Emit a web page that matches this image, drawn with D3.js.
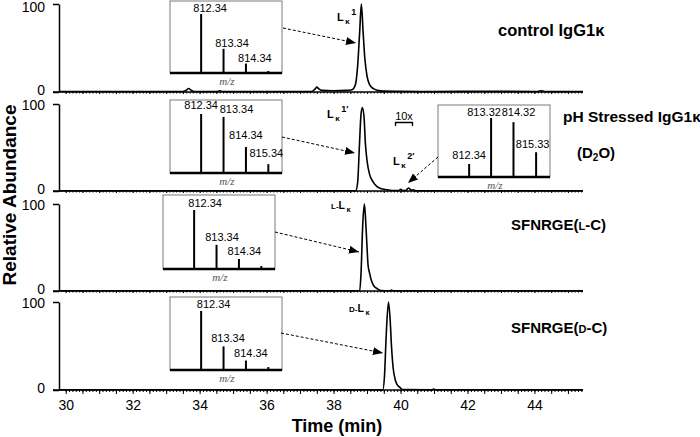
<!DOCTYPE html>
<html lang="en">
<head>
    <meta charset="UTF-8">
    <title>Chromatograms</title>
    <style>
        body { margin: 0; background: #fff; }
        svg { display: block; font-family: "Liberation Sans", Arial, sans-serif; }
    </style>
</head>
<body>
    <div id="chart"></div>
    <script src="https://d3js.org/d3.v7.min.js"></script>
    <script>
        // chromatogram traces, [time (min), relative abundance]
        const controlTrace = [[29.8,0.5],[33.5,0.5],[33.6,2],[33.67,4],[33.75,2],[33.82,0.5],[34.5,0.5],[34.6,1.5],[34.7,0.5],
            [37.35,0.6],[37.45,3.5],[37.5,5.5],[37.56,3.5],[37.65,1.8],[38.0,1.5],[38.4,1.8],[38.55,2.5],[38.65,8],[38.72,30],
            [38.78,68],[38.83,100],[38.88,70],[38.93,40],[39.0,18],[39.08,8],[39.18,4],[39.3,2],[39.5,1],[40,0.8],[41,0.6],
            [42.5,0.8],[44.1,0.6],[44.2,1.5],[44.3,0.6],[45.45,0.5]]
        const stressedTrace = [[29.8,0.3],[38.66,0.3],[38.72,10],[38.77,50],[38.82,88],[38.86,96],[38.91,85],[38.95,55],[39.0,35],
            [39.07,20],[39.19,10],[39.3,5],[39.4,3],[39.6,1.5],[39.8,0.5],[39.95,0.5],[40.0,2],[40.06,0.5],[40.15,0.6],[40.24,3.5],
            [40.32,1],[40.38,1.5],[40.45,0.3],[45.45,0.3]]
        const lcTrace = [[29.8,0.3],[38.78,0.3],[38.82,20],[38.87,75],[38.92,100],[38.96,80],[39.0,50],[39.03,30],[39.08,20],
            [39.13,12],[39.2,6],[39.31,2.5],[39.42,0.5],[39.68,0.3],[39.73,1.2],[39.78,0.3],[45.45,0.3]]
        const dcTrace = [[29.8,0.3],[39.47,0.3],[39.52,15],[39.57,60],[39.64,100],[39.69,80],[39.73,50],[39.78,25],[39.84,12],
            [39.9,6],[39.98,3],[40.06,0.5],[40.93,0.3],[40.99,1.2],[41.05,0.3],[45.45,0.3]]

        // inset mass spectra
        const mzControl = [812.34, 813.34, 814.34, 815.34]
        const intControl = [100, 41, 16, 3.5]
        const mzStressed1 = [812.34, 813.34, 814.34, 815.34]
        const intStressed1 = [100, 95, 44, 15]
        const mzStressed2 = [812.34, 813.32, 814.32, 815.33]
        const intStressed2 = [22, 100, 93, 42]
        const mzLC = [812.34, 813.34, 814.34, 815.34]
        const intLC = [100, 41, 17, 5]
        const mzDC = [812.34, 813.34, 814.34, 815.34]
        const intDC = [100, 40, 16, 5]

        const xTickLabels = [30, 32, 34, 36, 38, 40, 42, 44]
        const yTickLabels = [0, 100]

        const width = 700
        const height = 437
        const svg = d3.select('#chart').append('svg')
            .attr('width', width)
            .attr('height', height)

        svg.append('defs').append('marker')
            .attr('id', 'head')
            .attr('markerUnits', 'userSpaceOnUse')
            .attr('markerWidth', 10).attr('markerHeight', 8)
            .attr('refX', 10).attr('refY', 4)
            .attr('orient', 'auto')
            .append('path').attr('d', 'M0,0 L10,4 L0,8 z').attr('fill', '#000')

        const x = d3.scaleLinear().domain([29.8, 45.45]).range([59, 583])

        const panels = [
            { trace: controlTrace, top: 4, bottom: 92 },
            { trace: stressedTrace, top: 104, bottom: 191 },
            { trace: lcTrace, top: 204, bottom: 291 },
            { trace: dcTrace, top: 302, bottom: 390 }
        ]

        panels.forEach(function (p, i) {
            const y = d3.scaleLinear().domain([0, 100]).range([p.bottom, p.top])
            const g = svg.append('g')

            // y axis
            const ya = g.append('g')
                .attr('transform', 'translate(59,0)')
                .call(d3.axisLeft(y).tickValues(yTickLabels).tickSize(6).tickSizeOuter(0).tickPadding(8))
            ya.select('.domain').attr('stroke-width', 1.5)
            ya.selectAll('.tick line').attr('stroke-width', 1.5)
            ya.selectAll('text')
                .style('font-size', '14px')
                .attr('dy', d => d === 0 ? '0.15em' : (i === 0 ? '0.5em' : '0.4em'))

            // x ticks
            const last = i === panels.length - 1
            const minor = g.append('g')
                .attr('transform', `translate(0,${p.bottom})`)
                .call(d3.axisBottom(x).tickValues(d3.range(30, 45.45, 0.1)).tickSize(last ? 2 : 1.5).tickFormat(''))
            minor.select('.domain').remove()
            const major = g.append('g')
                .attr('transform', `translate(0,${p.bottom})`)
                .call(d3.axisBottom(x).tickValues(d3.range(30, 45.45, 0.5)).tickSize(last ? 4 : 2).tickPadding(6)
                    .tickFormat(d => (last && xTickLabels.includes(d)) ? d : ''))
            major.select('.domain').remove()
            major.selectAll('text').style('font-size', '14px')
            if (!last) major.selectAll('text').remove()

            g.append('line')
                .attr('x1', 53).attr('x2', x.range()[1])
                .attr('y1', p.bottom).attr('y2', p.bottom)
                .attr('stroke', '#000').attr('stroke-width', 1.5)

            const line = d3.line()
                .x(d => x(d[0]))
                .y(d => y(d[1]))
                .curve(d3.curveMonotoneX)
            g.append('path')
                .attr('d', line(p.trace))
                .attr('fill', 'none')
                .attr('stroke', '#000')
                .attr('stroke-width', 1.6)
                .attr('stroke-linejoin', 'round')
        })

        // insets
        const insets = [
            { mz: mzControl, val: intControl, left: 170, top: 1, bottom: 73, labels: 3,
              lab: [[9, -2], [8.5, -2], [9, -2]] },
            { mz: mzStressed1, val: intStressed1, left: 170, top: 100, bottom: 173, labels: 4,
              lab: [[0, -5], [13, -4], [0, -8], [-2, -7]] },
            { mz: mzStressed2, val: intStressed2, left: 438, top: 105, bottom: 177, labels: 4,
              lab: [[0, -5], [-7, -2], [5, -6], [-3.5, -4]] },
            { mz: mzLC, val: intLC, left: 163, top: 195, bottom: 269, labels: 3,
              lab: [[11, -3], [5.5, -4], [5.5, -4]] },
            { mz: mzDC, val: intDC, left: 170, top: 297, bottom: 370, labels: 3,
              lab: [[12.5, -3], [4.5, -4], [5, -4]] }
        ]

        insets.forEach(function (ins) {
            const g = svg.append('g')
            const bx = d3.scaleLinear().domain([810.95, 815.95]).range([ins.left, ins.left + 112])
            const by = d3.scaleLinear().domain([0, 100]).range([ins.bottom, ins.bottom - 59])

            g.append('rect')
                .attr('x', ins.left).attr('y', ins.top)
                .attr('width', 112).attr('height', ins.bottom - ins.top)
                .attr('fill', '#fff').attr('stroke', '#7a7a7a').attr('stroke-width', 1)

            g.selectAll('.bar')
                .data(ins.mz)
                .enter()
                .append('line')
                .attr('x1', d => bx(d)).attr('x2', d => bx(d))
                .attr('y1', ins.bottom).attr('y2', (d, i) => by(ins.val[i]))
                .attr('stroke', '#000').attr('stroke-width', 2)

            g.append('line')
                .attr('x1', ins.left).attr('x2', ins.left + 112)
                .attr('y1', ins.bottom).attr('y2', ins.bottom)
                .attr('stroke', '#000').attr('stroke-width', 2.5)

            g.selectAll('.lbl')
                .data(ins.mz.slice(0, ins.labels))
                .enter()
                .append('text')
                .attr('x', (d, i) => bx(d) + ins.lab[i][0])
                .attr('y', (d, i) => by(ins.val[i]) + ins.lab[i][1])
                .attr('text-anchor', 'middle')
                .style('font-size', '11px')
                .text(d => d.toFixed(2))

            g.append('text')
                .attr('x', ins.left + 57).attr('y', ins.bottom + 12)
                .attr('text-anchor', 'middle')
                .style('font-family', '"Liberation Serif", "Times New Roman", serif')
                .style('font-style', 'italic')
                .style('font-size', '11px')
                .attr('fill', '#555')
                .text('m/z')
        })

        // dashed arrows from insets to peaks
        const arrows = [
            [283, 28, 356, 43],
            [282, 137, 355, 153],
            [275, 232, 359, 252],
            [281, 333, 383, 353],
            [438, 157, 408, 183]
        ]
        svg.selectAll('.arrow')
            .data(arrows)
            .enter()
            .append('line')
            .attr('x1', d => d[0]).attr('y1', d => d[1])
            .attr('x2', d => d[2]).attr('y2', d => d[3])
            .attr('stroke', '#000').attr('stroke-width', 1)
            .attr('stroke-dasharray', '3,2')
            .attr('marker-end', 'url(#head)')

        // peak labels
        function peakLabel(px, py, pre, sup, size) {
            const t = svg.append('text')
                .attr('x', px).attr('y', py)
                .style('font-weight', 'bold')
                .style('font-size', size + 'px')
            if (pre) t.append('tspan').style('font-size', (size - 2.5) + 'px').text(pre)
            t.append('tspan').text('L')
            t.append('tspan').style('font-size', (size - 3) + 'px').attr('dx', 1.5).attr('dy', 3).text('κ')
            if (sup) t.append('tspan').style('font-size', (size - 2) + 'px').attr('dx', 1.5).attr('dy', -9).text(sup)
        }
        peakLabel(337, 21, '', '1', 11)
        peakLabel(327, 118, '', '1′', 11)
        peakLabel(393, 165, '', '2′', 11)
        peakLabel(331, 209, 'L-', '', 10.5)
        peakLabel(349, 312, 'D-', '', 10.5)

        // 10x bracket
        svg.append('text')
            .attr('x', 404).attr('y', 120)
            .attr('text-anchor', 'middle')
            .style('font-size', '11px')
            .text('10x')
        svg.append('path')
            .attr('d', 'M395.5,126 V122.5 H412.5 V126')
            .attr('fill', 'none').attr('stroke', '#000').attr('stroke-width', 1.3)

        // sample names
        function sampleLabel(px, py, size, parts) {
            const t = svg.append('text')
                .attr('x', px).attr('y', py)
                .style('font-weight', 'bold')
                .style('font-size', size)
            parts.forEach(function (s) {
                const sp = t.append('tspan').text(s[0])
                if (s[1]) sp.style('font-size', s[1])
                if (s[2]) sp.attr('dy', s[2])
            })
        }
        sampleLabel(498, 36, '16.5px', [['control IgG1κ']])
        sampleLabel(563, 122, '15.5px', [['pH Stressed IgG1κ']])
        sampleLabel(577, 158, '15px', [['(D'], ['2', '10px', 3], ['O)', null, -3]])
        sampleLabel(511, 230, '15px', [['SFNRGE('], ['L', '11px'], ['-C)']])
        sampleLabel(511, 333, '15px', [['SFNRGE('], ['D', '11px'], ['-C)']])

        // axis titles
        svg.append('text')
            .attr('transform', 'translate(16,195) rotate(-90)')
            .attr('text-anchor', 'middle')
            .style('font-weight', 'bold')
            .style('font-size', '19px')
            .text('Relative Abundance')
        svg.append('text')
            .attr('x', 337).attr('y', 432)
            .attr('text-anchor', 'middle')
            .style('font-weight', 'bold')
            .style('font-size', '18px')
            .text('Time (min)')
    </script>
</body>
</html>
